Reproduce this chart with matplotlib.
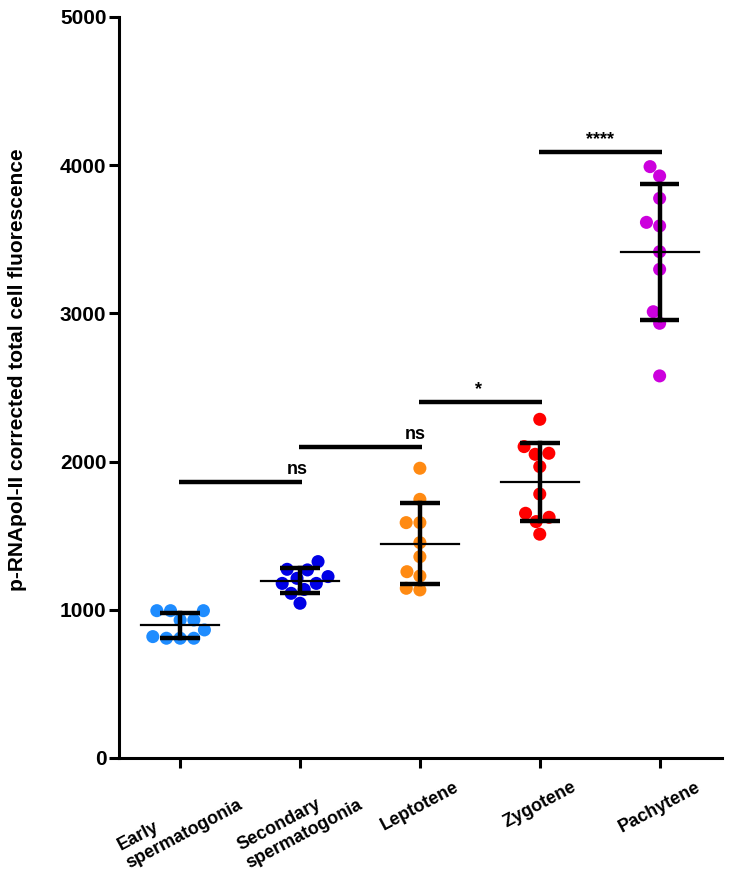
import numpy as np
import pandas as pd
import matplotlib
matplotlib.use("Agg")
import matplotlib.pyplot as plt
import seaborn as sns
from matplotlib import font_manager

# --- data ---
groups = ["Early\nspermatogonia", "Secondary\nspermatogonia", "Leptotene", "Zygotene", "Pachytene"]
early = [994, 994, 994, 931, 931, 864, 819, 808, 808, 808]
secondary = [1273, 1325, 1269, 1224, 1212, 1178, 1178, 1137, 1111, 1044]
leptotene = [1955, 1745, 1588, 1588, 1453, 1358, 1228, 1257, 1134, 1145]
zygotene = [2285, 2101, 2049, 2056, 1966, 1781, 1651, 1624, 1595, 1510]
pachytene = [3990, 3927, 3776, 3614, 3590, 3416, 3297, 3011, 2933, 2578]
colors = ["#1E8CFF", "#0000E6", "#FF8A12", "#FF0000", "#CC00DD"]

# significance brackets: (left group, right group, height, label, label x)
sig_lines = [(0, 1, 1860, "ns", 0.98),
             (1, 2, 2100, "ns", 1.96),
             (2, 3, 2400, "*", 2.49),
             (3, 4, 4090, "****", 3.50)]

names = {f.name for f in font_manager.fontManager.ttflist}
narrow = "Liberation Sans Narrow" if "Liberation Sans Narrow" in names else "Liberation Sans"

values = [early, secondary, leptotene, zygotene, pachytene]
df = pd.DataFrame({"group": np.repeat(groups, [len(v) for v in values]),
                   "value": np.concatenate(values)})

fig = plt.figure(figsize=(7.3, 8.77), dpi=100)
ax = fig.add_axes([0.163, 0.1357, 0.826, 0.845])

sns.swarmplot(data=df, x="group", y="value", hue="group", order=groups,
              palette=colors, size=9.4, linewidth=0, ax=ax, legend=False, zorder=2)

# mean +/- SD
for i, v in enumerate(values):
    m = np.mean(v)
    sd = np.std(v, ddof=1)
    ax.plot([i - 0.325, i + 0.325], [m, m], color="black", lw=1.6, zorder=3)
    ax.plot([i, i], [m - sd, m + sd], color="black", lw=3.2, zorder=3)
    for y in (m - sd, m + sd):
        ax.plot([i - 0.165, i + 0.165], [y, y], color="black", lw=3.2, zorder=3,
                solid_capstyle="butt")

for a, b, h, lab, tx in sig_lines:
    ax.plot([a - 0.01, b + 0.02], [h, h], color="black", lw=3.2, solid_capstyle="butt")
    ax.annotate(lab, (tx, h), xytext=(0, 3), textcoords="offset points",
                ha="center", va="bottom", fontsize=13, fontweight="bold",
                family="Liberation Sans")

ax.set_xlim(-0.51, 4.52)
ax.set_ylim(0, 5000)
ax.set_yticks([0, 1000, 2000, 3000, 4000, 5000])
ax.set_xlabel("")
ax.set_ylabel("p-RNApol-II corrected total cell fluorescence", family=narrow,
              fontsize=15, fontweight="bold")
ax.yaxis.set_label_coords(-0.153, 0.524)

for s in ["top", "right"]:
    ax.spines[s].set_visible(False)
for s in ["left", "bottom"]:
    ax.spines[s].set_linewidth(2.2)
ax.tick_params(axis="both", width=2.2, length=7, color="black")
ax.tick_params(axis="y", labelsize=15, pad=2)
ax.tick_params(axis="x", pad=8)
for t in ax.get_yticklabels():
    t.set_fontweight("bold")
    t.set_family("Liberation Sans")
ax.set_xticks(range(len(groups)))
ax.set_xticklabels(groups, rotation=28, ha="center", va="top", multialignment="left",
                   fontsize=13, fontweight="bold", family=narrow)

fig.savefig("out.png", dpi=100)
